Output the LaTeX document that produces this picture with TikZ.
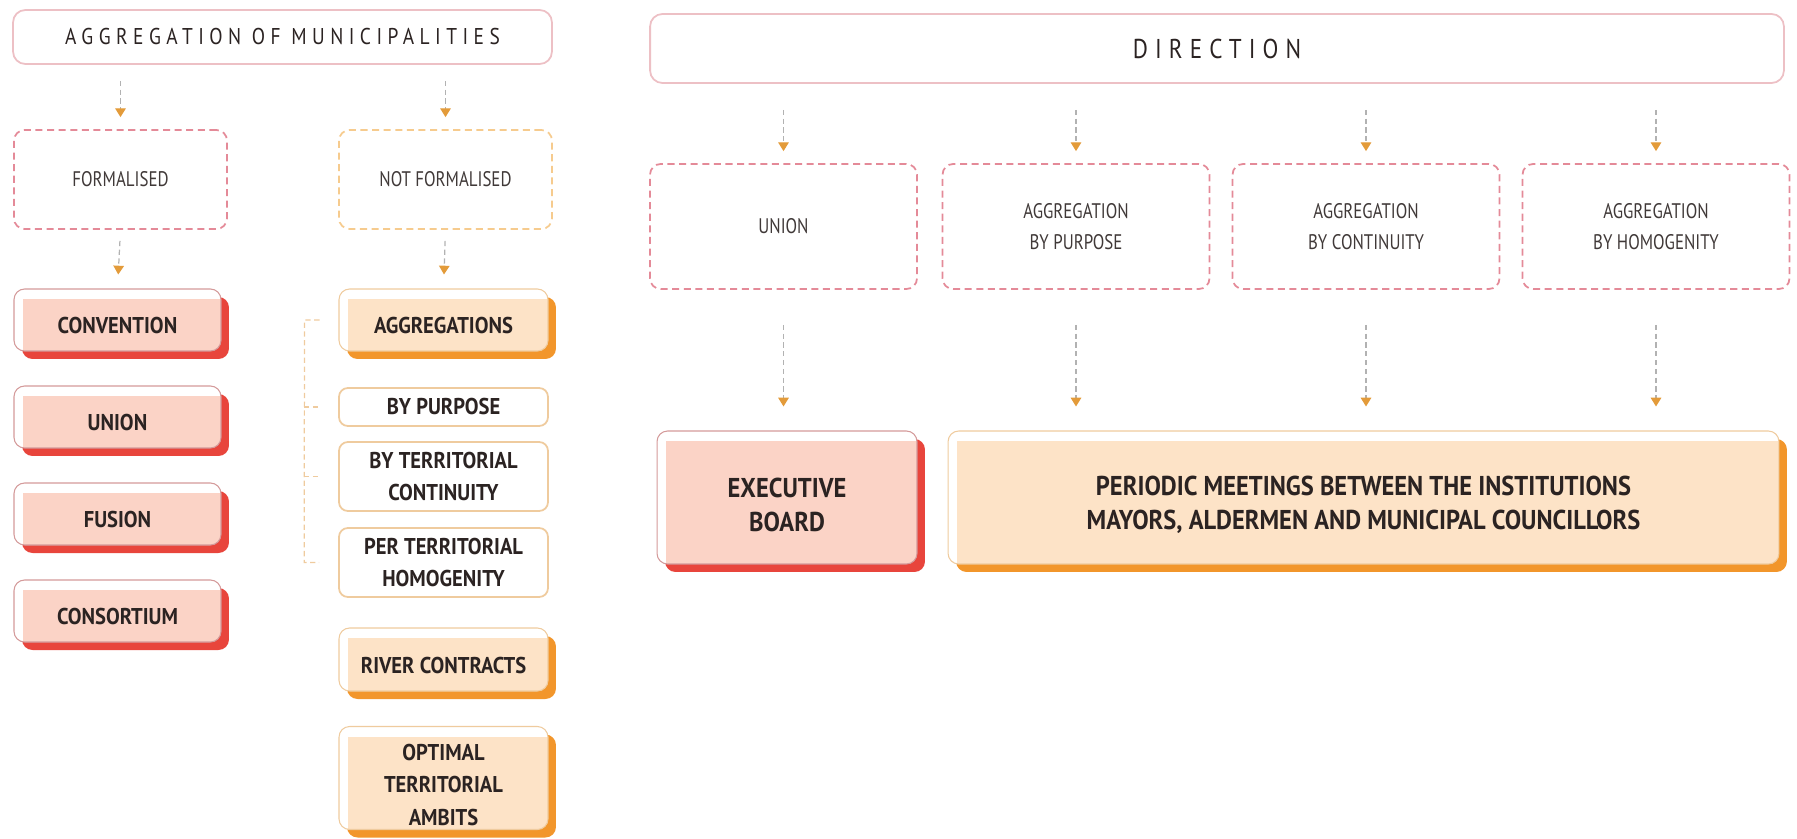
\documentclass[tikz,border=0pt]{standalone}
\usepackage{fontspec}
\setmainfont{PT Sans}
\newfontfamily\boldcond[FakeStretch=0.9]{PT Sans}
\newfontfamily\lightcond[FakeStretch=0.8]{PT Sans}
\newfontfamily\spacedfont[FakeStretch=0.85,LetterSpace=24]{PT Sans}
\usetikzlibrary{arrows.meta,shadows}

\definecolor{redshade}{HTML}{E8453C}
\definecolor{pinkfill}{HTML}{FBD3C6}
\definecolor{pinkline}{HTML}{D49A9A}
\definecolor{orshade}{HTML}{F2962B}
\definecolor{peachfill}{HTML}{FDE3C7}
\definecolor{peachline}{HTML}{EFCB9E}
\definecolor{dashred}{HTML}{E48A98}
\definecolor{dashor}{HTML}{F6CB8E}
\definecolor{titleline}{HTML}{EDC0C5}
\definecolor{arrowhd}{HTML}{E39B3A}
\definecolor{textdark}{HTML}{2B2322}

\tikzset{
  titlebox/.style={draw=titleline,line width=1pt,rounded corners=7pt,fill=white,
    inner sep=0pt,text=textdark},
  dashbox/.style={draw=#1,dashed,dash pattern=on 4pt off 2.6pt,line width=1pt,
    rounded corners=6pt,inner sep=0pt,align=center,text=textdark!90,
    font=\lightcond\fontsize{12}{18}\selectfont},
  solidbox/.style 2 args={rounded corners=6pt,draw=#2,line width=.6pt,fill=white,
    drop shadow={shadow xshift=.16cm,shadow yshift=-.16cm,fill=#1,opacity=1},
    path picture={\fill[#2,sharp corners] ([xshift=.18cm,yshift=-.2cm]path picture bounding box.north west)
      rectangle (path picture bounding box.south east);},
    inner sep=0pt,align=center,text=textdark,
    font=\boldcond\bfseries\fontsize{13}{18.5}\selectfont,
    execute at begin node={\rule{0pt}{.55cm}}},
  redbox/.style={solidbox={redshade}{pinkfill},draw=pinkline},
  orbox/.style={solidbox={orshade}{peachfill},draw=peachline},
  bigtext/.style={font=\boldcond\bfseries\fontsize{15.5}{19.6}\selectfont},
  subbox/.style={draw=peachline,line width=1pt,rounded corners=5pt,fill=white,
    inner sep=0pt,align=center,text=textdark,
    font=\boldcond\bfseries\fontsize{13}{18.5}\selectfont},
  flow/.style={draw=gray!60,dash pattern=on 3pt off 2pt,line width=.7pt,
    -{Triangle[color=arrowhd,length=5pt,width=6pt]}},
  bracket/.style={draw=peachline,dash pattern=on 3pt off 2pt,line width=.7pt}
}

\begin{document}
\begin{tikzpicture}[x=0.02cm,y=-0.02cm]
\useasboundingbox (0,0) rectangle (1797,838);

\node[titlebox,minimum width=10.78cm,minimum height=1.08cm,
  font=\spacedfont\fontsize{13}{15}\selectfont] (title) at (282.5,37) {AGGREGATION OF MUNICIPALITIES};
\node[dashbox=dashred,minimum width=4.26cm,minimum height=1.98cm] (formal) at (120.5,179.5) {FORMALISED};
\node[dashbox=dashor,minimum width=4.26cm,minimum height=1.98cm] (informal) at (445.5,179.5) {NOT FORMALISED};

\node[redbox,minimum width=4.14cm,minimum height=1.24cm] (conv) at (117.5,320) {CONVENTION};
\node[redbox,minimum width=4.14cm,minimum height=1.24cm] (union) at (117.5,417) {UNION};
\node[redbox,minimum width=4.14cm,minimum height=1.24cm] (fusion) at (117.5,514) {FUSION};
\node[redbox,minimum width=4.14cm,minimum height=1.24cm] (consort) at (117.5,611) {CONSORTIUM};

\node[orbox,minimum width=4.18cm,minimum height=1.24cm] (aggr) at (443.5,320) {AGGREGATIONS};
\node[subbox,minimum width=4.18cm,minimum height=.76cm] (purpose) at (443.5,407) {BY PURPOSE};
\node[subbox,minimum width=4.18cm,minimum height=1.38cm] (contin) at (443.5,476.5) {BY TERRITORIAL\\CONTINUITY};
\node[subbox,minimum width=4.18cm,minimum height=1.38cm] (homog) at (443.5,562.5) {PER TERRITORIAL\\HOMOGENITY};
\node[orbox,minimum width=4.18cm,minimum height=1.26cm] (river) at (443.5,659.5) {RIVER CONTRACTS};
\node[orbox,minimum width=4.18cm,minimum height=2.06cm] (optimal) at (443.5,778) {\rule{0pt}{.6cm}OPTIMAL\\TERRITORIAL\\AMBITS};

\draw[flow,shorten <=.32cm,shorten >=.24cm] (formal.north |- title.south) -- (formal.north);
\draw[flow,shorten <=.32cm,shorten >=.24cm] (informal.north |- title.south) -- (informal.north);
\draw[flow,shorten <=.22cm,shorten >=.28cm] (formal.south) -- (conv.north);
\draw[flow,shorten <=.22cm,shorten >=.28cm] (informal.south) -- (aggr.north);

\draw[bracket] ([xshift=-.38cm]aggr.west) -- ([xshift=-.68cm]aggr.west)
  -- ([xshift=-.68cm]homog.west) -- ([xshift=-.38cm]homog.west);
\foreach \b in {purpose,contin}
  \draw[bracket] ([xshift=-.68cm]\b.west) -- ([xshift=-.38cm]\b.west);

\node[titlebox,minimum width=22.68cm,minimum height=1.38cm,
  font=\spacedfont\fontsize{15.5}{17}\selectfont\addfontfeatures{LetterSpace=26}] (direction) at (1217,48.5) {DIRECTION};
\node[dashbox=dashred,minimum width=5.34cm,minimum height=2.5cm] (dunion) at (783.5,226.5) {UNION};
\node[dashbox=dashred,minimum width=5.34cm,minimum height=2.5cm] (dpurpose) at (1076,226.5) {AGGREGATION\\BY PURPOSE};
\node[dashbox=dashred,minimum width=5.34cm,minimum height=2.5cm] (dcontin) at (1366,226.5) {AGGREGATION\\BY CONTINUITY};
\node[dashbox=dashred,minimum width=5.34cm,minimum height=2.5cm] (dhomog) at (1656,226.5) {AGGREGATION\\BY HOMOGENITY};

\node[redbox,bigtext,minimum width=5.2cm,minimum height=2.66cm] (exec) at (787,497.5) {\rule{0pt}{.68cm}EXECUTIVE\\BOARD};
\node[orbox,bigtext,minimum width=16.62cm,minimum height=2.66cm] (meet) at (1363.5,497.5)
  {\rule{0pt}{.68cm}PERIODIC MEETINGS BETWEEN THE INSTITUTIONS\\MAYORS, ALDERMEN AND MUNICIPAL COUNCILLORS};

\foreach \d in {dunion,dpurpose,dcontin,dhomog}
  \draw[flow,shorten <=.52cm,shorten >=.24cm] (\d.north |- direction.south) -- (\d.north);
\draw[flow,shorten <=.7cm,shorten >=.48cm] (dunion.south) -- (exec.north -| dunion.south);
\foreach \d in {dpurpose,dcontin,dhomog}
  \draw[flow,shorten <=.7cm,shorten >=.48cm] (\d.south) -- (\d.south |- meet.north);
\end{tikzpicture}
\end{document}
